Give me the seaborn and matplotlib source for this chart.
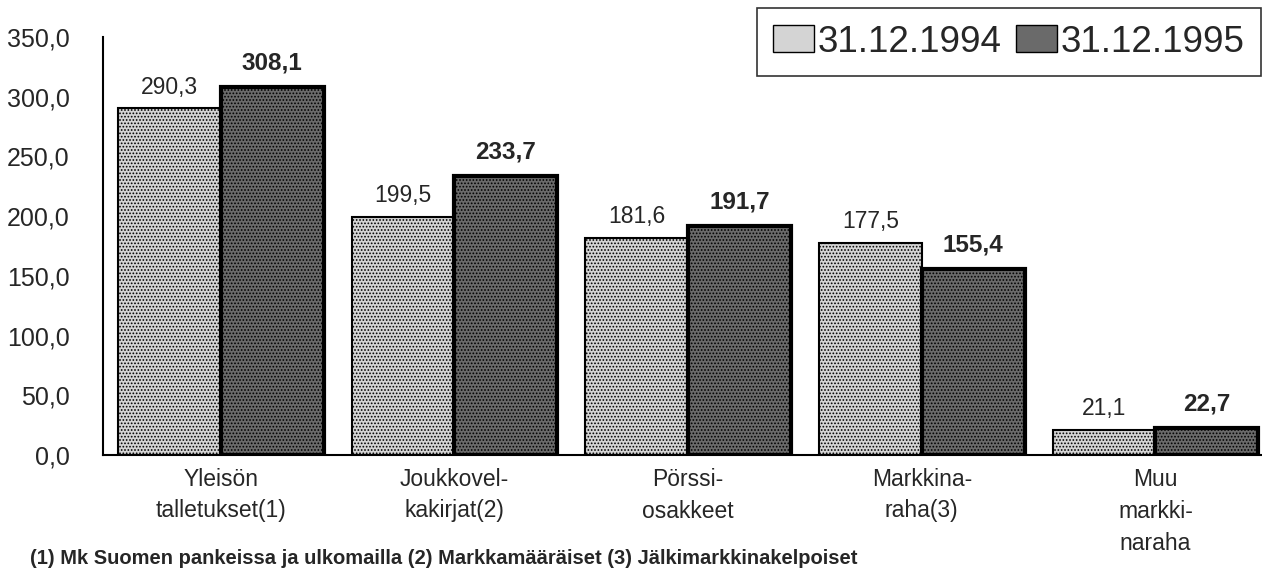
import pandas as pd
import matplotlib
matplotlib.use("Agg")
import matplotlib.pyplot as plt
import seaborn as sns
from matplotlib.ticker import FuncFormatter

# data
categories = ["Yleisön\ntalletukset(1)", "Joukkovel-\nkakirjat(2)", "Pörssi-\nosakkeet",
              "Markkina-\nraha(3)", "Muu\nmarkki-\nnaraha"]
dates = ["31.12.1994", "31.12.1995"]
values_1994 = [290.3, 199.5, 181.6, 177.5, 21.1]
values_1995 = [308.1, 233.7, 191.7, 155.4, 22.7]
footnote = "(1) Mk Suomen pankeissa ja ulkomailla (2) Markkamääräiset (3) Jälkimarkkinakelpoiset"

df = pd.DataFrame({
    "Kategoria": categories * 2,
    "Päivä": [dates[0]] * 5 + [dates[1]] * 5,
    "Arvo": values_1994 + values_1995,
})

sns.set_style("white")
plt.rcParams["font.family"] = ["Liberation Sans", "DejaVu Sans"]
plt.rcParams["hatch.linewidth"] = 0.8

fig = plt.figure(figsize=(12.62, 5.73), dpi=100)
ax = fig.add_axes([103 / 1262, 118 / 573, 1 - 103 / 1262, 418 / 573])

colors = {dates[0]: "#d4d4d4", dates[1]: "#6a6a6a"}
sns.barplot(data=df, x="Kategoria", y="Arvo", hue="Päivä", palette=colors,
            width=0.88, gap=0, saturation=1, ax=ax)

# edges / stipple texture like the scanned print
for cont, lw, hc in zip(ax.containers, [1.5, 3.0], ["#a0a0a0", "#3c3c3c"]):
    for bar in cont:
        bar.set_edgecolor("black")
        bar.set_linewidth(lw)
        bar.set_hatch(".....")
        try:
            bar.set_hatchcolor(hc)
        except AttributeError:
            pass

fmt = lambda v: f"{v:.1f}".replace(".", ",")
ax.bar_label(ax.containers[0], fmt=fmt, padding=7, fontsize=16.5)
ax.bar_label(ax.containers[1], fmt=fmt, padding=9, fontsize=17.5, fontweight="bold")

ax.set_ylim(0, 350)
ax.set_xlim(-0.504, 4.456)
ax.set_yticks(range(0, 351, 50))
ax.yaxis.set_major_formatter(FuncFormatter(lambda v, p: f"{v:.1f}".replace(".", ",")))
ax.tick_params(axis="y", labelsize=18, length=0, pad=24)
ax.tick_params(axis="x", labelsize=16.5, length=0, pad=9)
for lbl in ax.get_xticklabels():
    lbl.set_linespacing(1.5)
ax.set_xlabel("")
ax.set_ylabel("")
sns.despine(ax=ax, top=True, right=True)
for s in ["left", "bottom"]:
    ax.spines[s].set_color("black")
    ax.spines[s].set_linewidth(1.5)

leg = ax.legend(title=None, loc="upper right", bbox_to_anchor=(0.999, 1.069), ncol=2,
                fontsize=26.5, frameon=True, fancybox=False, handlelength=1.1,
                handleheight=0.75, handletextpad=0.1, columnspacing=0.4,
                borderpad=0.45, borderaxespad=0, edgecolor="black")
leg.get_frame().set_linewidth(1.2)
for h in leg.legend_handles:
    h.set_edgecolor("black")
    h.set_linewidth(1.0)

fig.text(30 / 1262, 24 / 573, footnote, fontsize=14.5, fontweight="bold", va="top", ha="left")

fig.savefig("out.png", dpi=100)
